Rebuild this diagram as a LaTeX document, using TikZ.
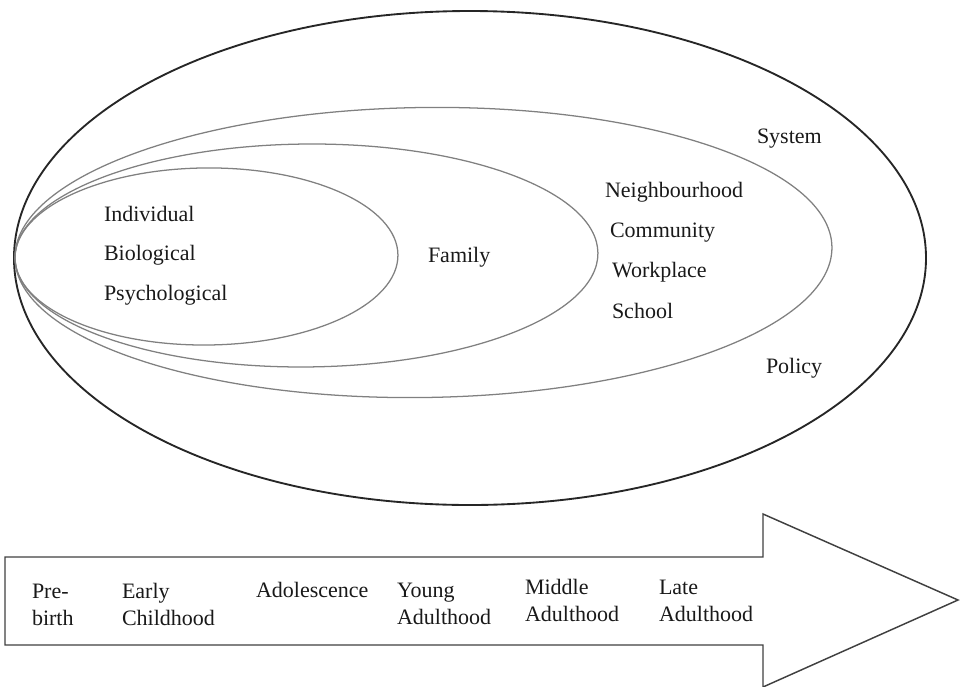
\documentclass[tikz,border=0pt]{standalone}
\usepackage{fontspec}
\setmainfont{Liberation Serif}
\usetikzlibrary{calc}

\newcommand{\lblfont}{\fontsize{16.5}{20.25}\selectfont}
\newcommand{\twolines}[2]{\begin{tabular}[t]{@{}l@{}}#1\\#2\end{tabular}}

\tikzset{
  outerring/.style={draw=black!85, line width=1.4pt},
  ring/.style={draw=black!50, line width=0.95pt},
  lbl/.style={anchor=base west, inner sep=0pt, outer sep=0pt, font=\lblfont, text=black!90},
  lifearrow/.style={draw=black!75, line width=1.1pt, fill=white, line join=miter}
}

\begin{document}
\begin{tikzpicture}[x=0.75pt, y=-0.75pt]
  \useasboundingbox (0,0) rectangle (960,686);

  % common left point of the nested ellipses
  \coordinate (L) at (15,258);

  % outer ellipse: system / policy
  \draw[outerring] (470,258) ellipse [x radius=342pt, y radius=185.25pt];

  % neighbourhood ellipse
  \draw[ring, rotate around={0.77:(L)}] ($(L)+(408.5,0)$)
    ellipse [x radius=306.4pt, y radius=108.75pt];

  % family ellipse
  \draw[ring, rotate around={0.49:(L)}] ($(L)+(291.5,0)$)
    ellipse [x radius=218.6pt, y radius=83.6pt];

  % individual ellipse
  \draw[ring, rotate around={0.45:(L)}] ($(L)+(191.5,0)$)
    ellipse [x radius=143.6pt, y radius=66.4pt];

  % labels inside the ellipses
  \node[lbl] (indiv)  at (104,221) {Individual};
  \node[lbl] (bio)    at (104,260) {Biological};
  \node[lbl] (psych)  at (104,300) {Psychological};
  \node[lbl] (family) at (428,262) {Family};
  \node[lbl] (neigh)  at (605,197) {Neighbourhood};
  \node[lbl] (comm)   at (610,237) {Community};
  \node[lbl] (work)   at (612,277) {Workplace};
  \node[lbl] (school) at (612,318) {School};
  \node[lbl] (system) at (757,143) {System};
  \node[lbl] (policy) at (766,373) {Policy};

  % life course arrow
  \coordinate (a1) at (5,557);
  \coordinate (a2) at (763,557);
  \coordinate (a3) at (763,514);
  \coordinate (tip) at (958,600);
  \coordinate (a5) at (763,687);
  \coordinate (a6) at (763,645);
  \coordinate (a7) at (5,645);
  \draw[lifearrow] (a1) -- (a2) -- (a3) -- (tip) -- (a5) -- (a6) -- (a7) -- cycle;

  % life stages along the arrow
  \node[lbl] (prebirth) at (32,598)  {\twolines{Pre-}{birth}};
  \node[lbl] (early)    at (122,598) {\twolines{Early}{Childhood}};
  \node[lbl] (adol)     at (256,597) {Adolescence};
  \node[lbl] (young)    at (397,597) {\twolines{Young}{Adulthood}};
  \node[lbl] (middle)   at (525,594) {\twolines{Middle}{Adulthood}};
  \node[lbl] (late)     at (659,594) {\twolines{Late}{Adulthood}};
\end{tikzpicture}
\end{document}
